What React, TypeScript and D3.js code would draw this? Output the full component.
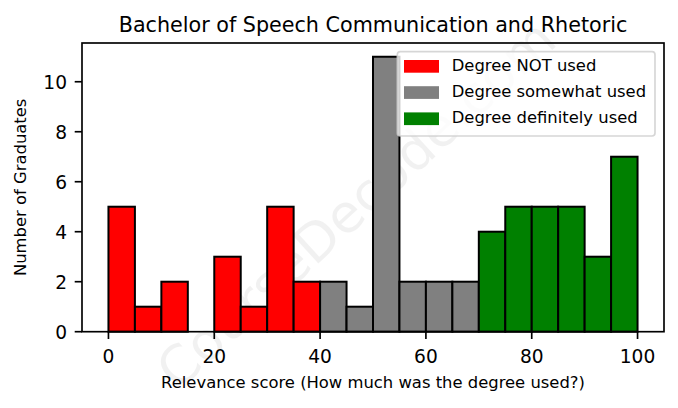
import React from "react";
import * as d3 from "d3";

const binStarts = [0, 5, 10, 15, 20, 25, 30, 35, 40, 45, 50, 55, 60, 65, 70, 75, 80, 85, 90, 95];
const counts = [5, 1, 2, 0, 3, 1, 5, 2, 2, 1, 11, 2, 2, 2, 4, 5, 5, 5, 3, 7];
const groups = ["not", "not", "not", "not", "not", "not", "not", "not", "some", "some", "some", "some", "some", "some", "def", "def", "def", "def", "def", "def"];
const binWidth = 5;
const legendKeys = ["not", "some", "def"];
const legendLabels = ["Degree NOT used", "Degree somewhat used", "Degree definitely used"];
const legendColors = ["#ff0000", "#808080", "#008000"];
const xTicks = [0, 20, 40, 60, 80, 100];
const yTicks = [0, 2, 4, 6, 8, 10];
const title = "Bachelor of Speech Communication and Rhetoric";
const xLabel = "Relevance score (How much was the degree used?)";
const yLabel = "Number of Graduates";
const watermark = "CourseDecode.com";

const W = 678;
const H = 408;
const M = { left: 82, right: 664, top: 43, bottom: 331.7 };
const FONT = "DejaVu Sans, sans-serif";

export default function App() {
  const x = d3.scaleLinear().domain([-5, 105]).range([M.left, M.right]);
  const yMax = d3.max(counts)! * 1.05;
  const y = d3.scaleLinear().domain([0, yMax]).range([M.bottom, M.top]);
  const color = d3.scaleOrdinal<string, string>().domain(legendKeys).range(legendColors);
  const tickLen = 7.3;
  const spine = 1.67;

  const legX = 397.3;
  const legY = 51.7;
  const legW = 257.7;
  const legH = 84.3;
  const rowStep = 26.2;

  return (
    <div style={{ position: "absolute", left: 0, top: 0, width: W, height: H, background: "#fff" }}>
      <svg width={W} height={H} style={{ display: "block" }} fontFamily={FONT}>
        <rect x={0} y={0} width={W} height={H} fill="#fff" />
        {/* watermark */}
        <text
          x={356}
          y={204}
          transform="rotate(-42.4, 356, 204)"
          textAnchor="middle"
          dominantBaseline="central"
          fontSize={53}
          fill="#000"
          fillOpacity={0.055}
        >
          {watermark}
        </text>
        {/* bars */}
        {binStarts.map((b, i) => (
          <rect
            key={i}
            x={x(b)}
            y={y(counts[i])}
            width={x(b + binWidth) - x(b)}
            height={y(0) - y(counts[i])}
            fill={color(groups[i])}
            stroke="#000"
            strokeWidth={2}
          />
        ))}
        {/* spines */}
        <rect
          x={M.left}
          y={M.top}
          width={M.right - M.left}
          height={M.bottom - M.top}
          fill="none"
          stroke="#000"
          strokeWidth={spine}
        />
        {/* x ticks */}
        {xTicks.map((t) => (
          <g key={"x" + t}>
            <line x1={x(t)} x2={x(t)} y1={M.bottom} y2={M.bottom + tickLen} stroke="#000" strokeWidth={spine} />
            <text x={x(t)} y={363} textAnchor="middle" fontSize={18.6} fill="#000">
              {t}
            </text>
          </g>
        ))}
        {/* y ticks */}
        {yTicks.map((t) => (
          <g key={"y" + t}>
            <line x1={M.left - tickLen} x2={M.left} y1={y(t)} y2={y(t)} stroke="#000" strokeWidth={spine} />
            <text x={67} y={y(t) + 6.8} textAnchor="end" fontSize={18.6} fill="#000">
              {t}
            </text>
          </g>
        ))}
        {/* labels */}
        <text x={(M.left + M.right) / 2} y={31.5} textAnchor="middle" fontSize={20.7} fill="#000">
          {title}
        </text>
        <text x={(M.left + M.right) / 2} y={388} textAnchor="middle" fontSize={16.4} fill="#000">
          {xLabel}
        </text>
        <text
          x={26.5}
          y={(M.top + M.bottom) / 2}
          transform={`rotate(-90, 26.5, ${(M.top + M.bottom) / 2})`}
          textAnchor="middle"
          fontSize={16.4}
          fill="#000"
        >
          {yLabel}
        </text>
        {/* legend */}
        <rect
          x={legX}
          y={legY}
          width={legW}
          height={legH}
          rx={3}
          ry={3}
          fill="#fff"
          fillOpacity={0.8}
          stroke="#cccccc"
          strokeOpacity={0.8}
          strokeWidth={1.67}
        />
        {legendLabels.map((lab, i) => (
          <g key={lab}>
            <rect x={404} y={60 + i * rowStep} width={35} height={12.7} fill={legendColors[i]} />
            <text x={451.7} y={70.6 + i * rowStep} fontSize={16.4} fill="#000">
              {lab}
            </text>
          </g>
        ))}
      </svg>
    </div>
  );
}
